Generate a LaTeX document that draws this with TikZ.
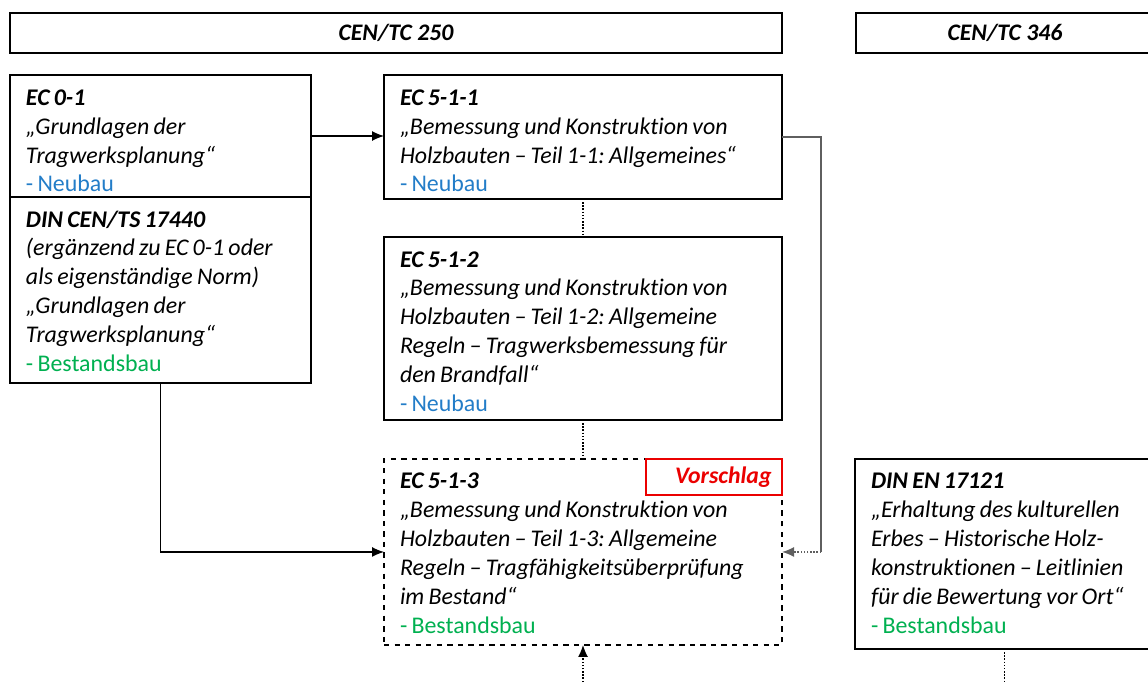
\documentclass[tikz,border=0pt]{standalone}
\usepackage{fontspec}
\setmainfont{Carlito}[Ligatures={TeX,NoCommon}]
\usetikzlibrary{arrows.meta, positioning, calc}

\definecolor{neubaublau}{RGB}{35,125,200}
\definecolor{bestandgruen}{RGB}{0,176,80}
\definecolor{vorschlagrot}{RGB}{235,0,0}
\definecolor{linkgrau}{RGB}{95,95,95}

\newcommand{\strutoben}{\rule{0pt}{0.6cm}}
\newcommand{\strutunten}[1]{\rule[-#1]{0pt}{#1}}
\newcommand{\neubau}[1]{{\upshape\color{neubaublau}- Neubau\strutunten{#1}}}
\newcommand{\bestandsbau}[1]{{\upshape\color{bestandgruen}- Bestandsbau\strutunten{#1}}}

\begin{document}
\begin{tikzpicture}[
  >={Latex[length=2.4mm,width=2mm]},
  kopf/.style={draw, line width=0.9pt, outer sep=0pt, minimum height=0.8cm,
    font=\bfseries\itshape\fontsize{13.5pt}{16.5pt}\selectfont},
  norm/.style={draw, line width=0.9pt, outer sep=0pt, align=left,
    inner xsep=0.32cm, inner ysep=0pt,
    font=\itshape\fontsize{13.6pt}{16.5pt}\selectfont,
    execute at begin node={\frenchspacing\spaceskip=2.4pt plus 0.6pt\relax}},
  vorschlag/.style={draw=vorschlagrot, line width=1.1pt, fill=white, outer sep=0pt,
    text=vorschlagrot, minimum width=2.72cm, minimum height=0.72cm,
    text width=2.3cm, inner xsep=0.21cm, align=right,
    font=\bfseries\itshape\fontsize{13.5pt}{16.5pt}\selectfont},
  pfeil/.style={->, line width=0.7pt},
  punkt/.style={densely dotted, line width=0.8pt},
  grau/.style={draw=linkgrau, line width=0.8pt}
]
  \useasboundingbox (0,0) rectangle (22.96,-13.64);
  \clip (0,0) rectangle (22.96,-13.64);

  % Kopfzeilen
  \node[kopf, minimum width=15.44cm, anchor=north west] (tc250) at (0.2,-0.26) {CEN/TC 250};
  \node[kopf, minimum width=5.96cm, right=1.48cm of tc250] (tc346) {CEN/TC 346};

  % linke Spalte
  \node[norm, text width=5.38cm, below right=0.44cm and 0cm of tc250.south west] (ec01)
    {\textbf{\strutoben EC 0-1}\\
     „Grundlagen der\\
     Tragwerksplanung“\\
     \neubau{0.1cm}};
  \node[norm, text width=5.38cm, below=0cm of ec01] (din17440)
    {\textbf{\strutoben DIN CEN/TS 17440}\\
     (ergänzend zu EC 0-1 oder\\
     als eigenständige Norm)\\
     „Grundlagen der\\
     Tragwerksplanung“\\
     \bestandsbau{0.22cm}};

  % mittlere Spalte
  \node[norm, text width=7.32cm, right=1.46cm of ec01.north east, anchor=north west] (ec511)
    {\textbf{\strutoben EC 5-1-1}\\
     „Bemessung und Konstruktion von\\
     Holzbauten – Teil 1-1: Allgemeines“\\
     \neubau{0.14cm}};
  \node[norm, text width=7.32cm, below=0.76cm of ec511] (ec512)
    {\textbf{\strutoben EC 5-1-2}\\
     „Bemessung und Konstruktion von\\
     Holzbauten – Teil 1-2: Allgemeine\\
     Regeln – Tragwerksbemessung für\\
     den Brandfall“\\
     \neubau{0.16cm}};
  \node[norm, dashed, text width=7.32cm, below=0.78cm of ec512] (ec513)
    {\textbf{\strutoben EC 5-1-3}\\
     „Bemessung und Konstruktion von\\
     Holzbauten – Teil 1-3: Allgemeine\\
     Regeln – Tragfähigkeitsüberprüfung\\
     im Bestand“\\
     \bestandsbau{0.22cm}};
  \node[vorschlag, anchor=north east] (vorschl) at (ec513.north east) {Vorschlag};

  % rechte Spalte
  \node[norm, text width=5.34cm, right=1.46cm of ec513.north east, anchor=north west] (din17121)
    {\textbf{\strutoben DIN EN 17121}\\
     „Erhaltung des kulturellen\\
     Erbes – Historische Holz-\\
     konstruktionen – Leitlinien\\
     für die Bewertung vor Ort“\\
     \bestandsbau{0.3cm}};

  % Verbindungen
  \draw[pfeil] (ec01.east) -- (ec01.east -| ec511.west);
  \draw[punkt] (ec511) -- (ec512);
  \draw[punkt] (ec512) -- (ec513);
  \draw[pfeil] (din17440.south) |- (ec513.west);

  \coordinate (knick) at ($(ec511.east)+(0.78,0)$);
  \coordinate (knickunten) at (knick |- ec513.east);
  \draw[grau] (ec511.east) -- (knick) -- (knickunten);
  \draw[grau, punkt, ->] (knickunten) -- (ec513.east);

  \coordinate (rand1) at (ec513.south |- 0,-13.64);
  \draw[punkt, ->] (rand1) -- (ec513.south);
  \coordinate (rand2) at (din17121.south |- 0,-13.64);
  \draw[punkt] (din17121.south) -- (rand2);
\end{tikzpicture}
\end{document}
